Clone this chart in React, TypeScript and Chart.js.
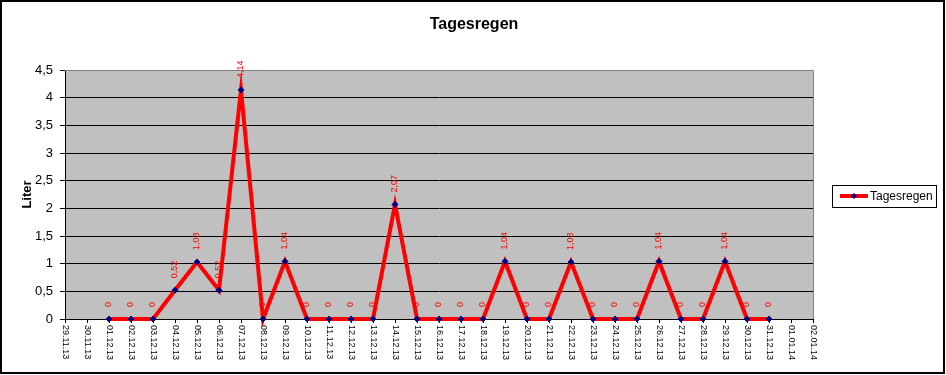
import React, { useEffect, useRef } from "react";
import { Chart, registerables } from "chart.js";

Chart.register(...registerables);

const categories = [
  "29.11.13", "30.11.13", "01.12.13", "02.12.13", "03.12.13", "04.12.13", "05.12.13",
  "06.12.13", "07.12.13", "08.12.13", "09.12.13", "10.12.13", "11.12.13", "12.12.13",
  "13.12.13", "14.12.13", "15.12.13", "16.12.13", "17.12.13", "18.12.13", "19.12.13",
  "20.12.13", "21.12.13", "22.12.13", "23.12.13", "24.12.13", "25.12.13", "26.12.13",
  "27.12.13", "28.12.13", "29.12.13", "30.12.13", "31.12.13", "01.01.14", "02.01.14",
];

const tagesregen: (number | null)[] = [
  null, null, 0, 0, 0, 0.52, 1.03,
  0.52, 4.14, 0, 1.04, 0, 0, 0,
  0, 2.07, 0, 0, 0, 0, 1.04,
  0, 0, 1.03, 0, 0, 0, 1.04,
  0, 0, 1.04, 0, 0, null, null,
];

const seriesName = "Tagesregen";
const chartTitle = "Tagesregen";
const yAxisTitle = "Liter";

const FONT = "'Liberation Sans', Arial, sans-serif";
const fmt = (v: number) => String(v).replace(".", ",");

const decorPlugin = {
  id: "decor",
  beforeDraw(chart: any) {
    const { ctx, chartArea: a, width, height } = chart;
    ctx.save();
    ctx.fillStyle = "#ffffff";
    ctx.fillRect(0, 0, width, height);
    ctx.fillStyle = "#c0c0c0";
    ctx.fillRect(a.left, a.top, a.right - a.left, a.bottom - a.top);
    ctx.restore();
  },
  beforeDatasetsDraw(chart: any) {
    const { ctx } = chart;
    const meta = chart.getDatasetMeta(0);
    const data = chart.data.datasets[0].data;
    ctx.save();
    ctx.fillStyle = "#ff0000";
    ctx.font = `9px ${FONT}`;
    ctx.textAlign = "left";
    ctx.textBaseline = "middle";
    meta.data.forEach((pt: any, i: number) => {
      const v = data[i];
      if (v === null || v === undefined) return;
      ctx.save();
      ctx.translate(pt.x, pt.y - 12);
      ctx.rotate(-Math.PI / 2);
      ctx.fillText(fmt(v), 0, 0);
      ctx.restore();
    });
    ctx.restore();
  },
  afterDraw(chart: any) {
    const { ctx, chartArea: a } = chart;
    const xs = chart.scales.x;
    ctx.save();
    // plot border (top/right gray)
    ctx.strokeStyle = "#808080";
    ctx.lineWidth = 1;
    ctx.beginPath();
    ctx.moveTo(a.left, a.top + 0.5);
    ctx.lineTo(a.right + 0.5, a.top + 0.5);
    ctx.lineTo(a.right + 0.5, a.bottom);
    ctx.stroke();

    // x labels, rotated clockwise
    ctx.fillStyle = "#000000";
    ctx.font = `9px ${FONT}`;
    ctx.textAlign = "left";
    ctx.textBaseline = "middle";
    categories.forEach((c, i) => {
      const x = xs.getPixelForValue(i);
      ctx.save();
      ctx.translate(x, a.bottom + 6);
      ctx.rotate(Math.PI / 2);
      ctx.fillText(c, 0, 0);
      ctx.restore();
    });

    // title
    ctx.font = `bold 16px ${FONT}`;
    ctx.textAlign = "center";
    ctx.textBaseline = "alphabetic";
    ctx.fillText(chartTitle, 474, 29);

    // y-axis title
    ctx.save();
    ctx.font = `bold 13px ${FONT}`;
    ctx.translate(27, (a.top + a.bottom) / 2);
    ctx.rotate(-Math.PI / 2);
    ctx.textAlign = "center";
    ctx.textBaseline = "middle";
    ctx.fillText(yAxisTitle, 0, 0);
    ctx.restore();

    // legend
    ctx.strokeStyle = "#000000";
    ctx.lineWidth = 1;
    ctx.strokeRect(832.5, 185.5, 104, 22);
    ctx.strokeStyle = "#ff0000";
    ctx.lineWidth = 4;
    ctx.beginPath();
    ctx.moveTo(840, 196);
    ctx.lineTo(868, 196);
    ctx.stroke();
    ctx.fillStyle = "#000080";
    ctx.beginPath();
    ctx.moveTo(854, 193);
    ctx.lineTo(857, 196);
    ctx.lineTo(854, 199);
    ctx.lineTo(851, 196);
    ctx.closePath();
    ctx.fill();
    ctx.fillStyle = "#000000";
    ctx.font = `12px ${FONT}`;
    ctx.textAlign = "left";
    ctx.textBaseline = "middle";
    ctx.fillText(seriesName, 870, 196.5);

    // outer frame
    ctx.strokeStyle = "#000000";
    ctx.lineWidth = 2;
    ctx.strokeRect(1, 1, 943, 372);
    ctx.restore();
  },
};

export default function App() {
  const ref = useRef<HTMLCanvasElement | null>(null);
  useEffect(() => {
    document.body.style.margin = "0";
    const canvas = ref.current;
    if (!canvas) return;
    const chart = new Chart(canvas, {
      type: "line",
      data: {
        labels: categories,
        datasets: [
          {
            label: seriesName,
            data: tagesregen,
            borderColor: "#ff0000",
            borderWidth: 4,
            tension: 0,
            spanGaps: false,
            pointStyle: "rectRot",
            pointRadius: 3,
            pointBackgroundColor: "#000080",
            pointBorderColor: "#000080",
            pointBorderWidth: 1,
            clip: false,
          } as any,
        ],
      },
      options: {
        animation: false,
        responsive: false,
        devicePixelRatio: 1,
        layout: { padding: { top: 70, right: 133, left: 0, bottom: 0 } },
        plugins: {
          legend: { display: false },
          title: { display: false },
          tooltip: { enabled: false },
        },
        scales: {
          x: {
            type: "category",
            offset: false,
            grid: {
              display: true,
              drawOnChartArea: false,
              drawTicks: true,
              tickLength: 4,
              color: "#000000",
            },
            border: { display: true, color: "#000000", width: 1 },
            ticks: { display: false, autoSkip: false },
            afterFit: (s: any) => {
              s.height = 56;
            },
          },
          y: {
            min: 0,
            max: 4.5,
            grid: {
              color: (c: any) => (c.tick && c.tick.value === 4.5 ? "#808080" : "#000000"),
              tickColor: "#000000",
              tickLength: 5,
              lineWidth: 1,
            },
            border: { display: true, color: "#000000", width: 1 },
            ticks: {
              stepSize: 0.5,
              color: "#000000",
              padding: 7,
              font: { family: FONT, size: 13 },
              callback: (v: any) => fmt(Number(v)),
            },
            afterFit: (s: any) => {
              s.width = 65;
            },
          },
        },
      },
      plugins: [decorPlugin],
    });
    return () => chart.destroy();
  }, []);
  return (
    <div style={{ position: "absolute", left: 0, top: 0, width: 946, height: 375 }}>
      <canvas ref={ref} width={946} height={375} />
    </div>
  );
}
